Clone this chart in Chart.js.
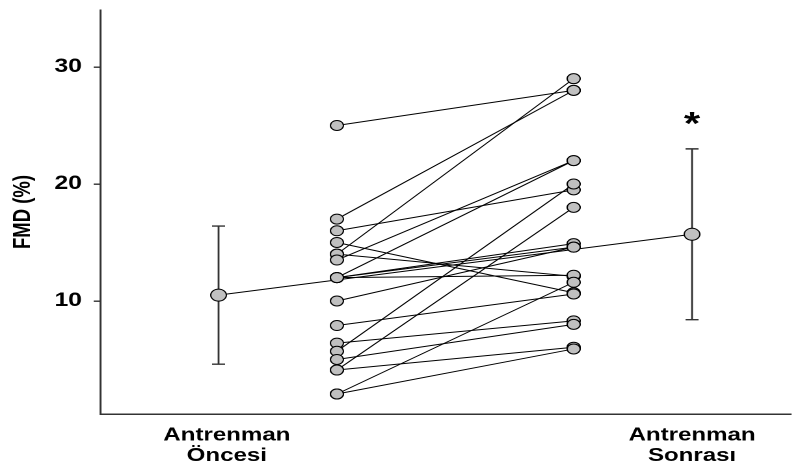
<!DOCTYPE html>
<html lang="tr">
<head>
<meta charset="UTF-8">
<title>FMD</title>
<script src="https://cdn.jsdelivr.net/npm/chart.js"></script>
<style>
    body { margin: 0; background: #fff; overflow: hidden; }
    .wrap {
        width: 615px;
        height: 471px;
        transform: scaleX(1.3008);
        transform-origin: left top;
    }
</style>
</head>
<body>
<div class="wrap"><canvas id="fmd"></canvas></div>
<script>
// values
const groups = [['Antrenman', 'Öncesi'], ['Antrenman', 'Sonrası']];
const pre  = [25, 17, 16, 15, 14, 14, 13.5, 12, 12, 12, 12, 10, 7.9, 6.4, 5.7, 5.0, 4.1, 4.1, 2.05, 2.05];
const post = [28, 28, 19.5, 10.7, 29, 12.1, 22, 22, 12.2, 14.9, 14.6, 14.6, 10.6, 8.3, 20, 8.0, 6.05, 18, 5.9, 11.6];
const means = [10.5, 15.7];
const sds = [5.9, 7.3];
const yTicks = [10, 20, 30];
const sigMark = '*';

// horizontal placement of the columns and of the group labels
const X_MEAN_PRE = 1, X_PRE = 2, X_POST = 4, X_MEAN_POST = 5;
const LABEL_X = [1.07, 5.0];

const gray = '#c0c0c0';
const axisColor = '#333';
const font = 'Arial, "Liberation Sans", sans-serif';

const subjectLines = pre.map((v, i) => ({
    type: 'line',
    data: [{x: X_PRE, y: v}, {x: X_POST, y: post[i]}],
    showLine: true,
    borderColor: '#000',
    borderWidth: 1,
    pointRadius: 0,
    order: 1
}));

const errorBars = {
    id: 'errorBars',
    beforeDatasetsDraw(chart) {
        const {ctx, scales: {x, y}} = chart;
        const cols = [X_MEAN_PRE, X_MEAN_POST];
        ctx.save();
        ctx.strokeStyle = axisColor;
        ctx.lineWidth = 1.4;
        cols.forEach((c, i) => {
            const px = x.getPixelForValue(c);
            const top = y.getPixelForValue(means[i] + sds[i]);
            const bot = y.getPixelForValue(means[i] - sds[i]);
            ctx.beginPath();
            ctx.moveTo(px, top); ctx.lineTo(px, bot);
            ctx.moveTo(px - 5, top); ctx.lineTo(px + 5, top);
            ctx.moveTo(px - 5, bot); ctx.lineTo(px + 5, bot);
            ctx.stroke();
        });
        ctx.restore();
    },
    afterDatasetsDraw(chart) {
        const {ctx, scales: {x, y}} = chart;
        const px = x.getPixelForValue(X_MEAN_POST);
        const top = y.getPixelForValue(means[1] + sds[1]);
        ctx.save();
        ctx.fillStyle = '#000';
        ctx.font = 'bold 32px ' + font;
        ctx.textAlign = 'center';
        ctx.textBaseline = 'middle';
        ctx.fillText(sigMark, px, top - 23);
        ctx.restore();
    }
};

new Chart(document.getElementById('fmd'), {
    type: 'scatter',
    data: {
        datasets: [
            {
                data: pre.map(v => ({x: X_PRE, y: v})).concat(post.map(v => ({x: X_POST, y: v}))),
                pointRadius: 5,
                backgroundColor: gray,
                borderColor: '#000',
                borderWidth: 1,
                order: 0
            },
            {
                data: [{x: X_MEAN_PRE, y: means[0]}, {x: X_MEAN_POST, y: means[1]}],
                pointRadius: 6,
                backgroundColor: gray,
                borderColor: '#000',
                borderWidth: 1,
                order: 0
            },
            ...subjectLines,
            {
                type: 'line',
                data: [{x: X_MEAN_PRE, y: means[0]}, {x: X_MEAN_POST, y: means[1]}],
                showLine: true,
                borderColor: '#000',
                borderWidth: 1,
                pointRadius: 0,
                order: 2
            }
        ]
    },
    options: {
        responsive: true,
        maintainAspectRatio: false,
        devicePixelRatio: 2,
        animation: false,
        layout: { padding: { top: 10, right: 0 } },
        plugins: { legend: { display: false }, tooltip: { enabled: false } },
        scales: {
            x: {
                type: 'linear',
                min: 0,
                max: 5.835,
                afterBuildTicks: s => { s.ticks = LABEL_X.map(v => ({value: v})); },
                afterFit: s => { s.height = 57; s.paddingLeft = 0; s.paddingRight = 0; },
                grid: { display: false },
                border: { display: true, color: axisColor, width: 1.5 },
                ticks: {
                    autoSkip: false,
                    maxRotation: 0,
                    padding: 3,
                    color: '#000',
                    font: { family: font, size: 18.5, weight: 'bold', lineHeight: 1.12 },
                    callback: v => v === LABEL_X[0] ? groups[0] : groups[1]
                }
            },
            y: {
                min: 0.34,
                max: 34.87,
                afterBuildTicks: s => { s.ticks = yTicks.map(v => ({value: v})); },
                afterFit: s => { s.width = 77; s.paddingTop = 0; s.paddingBottom = 0; },
                grid: { drawOnChartArea: false, drawTicks: true, tickLength: 5, color: axisColor, lineWidth: 1.4 },
                border: { display: true, color: axisColor, width: 1.5 },
                title: {
                    display: true,
                    text: 'FMD (%)',
                    color: '#000',
                    font: { family: font, size: 18.5, weight: 'bold' },
                    padding: { top: 7, bottom: 0 }
                },
                ticks: {
                    padding: 9,
                    color: '#000',
                    font: { family: font, size: 19, weight: 'bold' }
                }
            }
        }
    },
    plugins: [errorBars]
});
</script>
</body>
</html>
